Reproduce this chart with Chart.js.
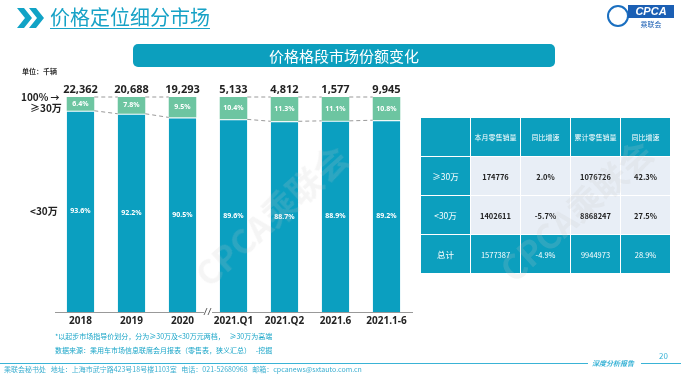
<!DOCTYPE html>
<html>
<head>
<meta charset="utf-8">
<script src="https://cdn.jsdelivr.net/npm/chart.js@4"></script>
<style>
  html, body { margin: 0; padding: 0; background: #fff; }
  body { width: 693px; height: 385px; position: relative; overflow: hidden;
         font-family: "Noto Sans CJK SC", "Noto Sans", sans-serif; }
  #chart { position: absolute; left: 0; top: 0; }
  .abs { position: absolute; white-space: nowrap; }
  .title { left: 50px; top: 4px; font-size: 20px; color: #17a2c6; text-decoration: underline;
           text-underline-offset: 3px; text-decoration-thickness: 1px; line-height: 26px; }
  .banner { left: 133px; top: 44px; width: 422px; height: 23px; background: #0c9fbe;
            border-radius: 5px; color: #fff; font-size: 15px; line-height: 23px; text-align: center; }
  .unit { left: 22px; top: 66px; font-size: 7px; font-weight: bold; color: #333; }
  .side { font-size: 10px; font-weight: bold; color: #222; }
  table.t { position: absolute; left: 420px; top: 117px; border-collapse: separate; border-spacing: 1px;
            font-size: 7px; text-align: center; }
  table.t td { width: 49px; padding: 0; }
  table.t tr.h td { height: 38px; background: #0c9fbe; color: #fff; }
  table.t tr.b td { height: 38px; background: #e8eef6; color: #222; font-weight: bold; font-size: 7.5px; }
  table.t tr.b td.lab { background: #0c9fbe; color: #fff; font-weight: normal; font-size: 8.5px; }
  table.t tr.f td { height: 38px; background: #0c9fbe; color: #fff; font-size: 7.5px; }
  table.t tr.f td.lab { font-size: 8.5px; }
  .note { left: 55px; font-size: 7px; color: #1aa5c8; }
  .foot { left: 4px; top: 364px; font-size: 7px; color: #3aaed0; }
  .wm { font-size: 34px; font-weight: bold; color: rgba(200,200,200,0.18); transform: rotate(-42deg); }
</style>
</head>
<body>
<canvas id="chart" width="693" height="385"></canvas>

<svg class="abs" style="left:17px;top:8px" width="30" height="20" viewBox="0 0 30 20">
  <polygon points="0,0 7,0 15,10 7,20 0,20 8,10" fill="#11a3c6"/>
  <polygon points="12,0 19,0 27,10 19,20 12,20 20,10" fill="#11a3c6"/>
</svg>
<div class="abs title">价格定位细分市场</div>

<div class="abs" style="left:607px;top:5px;width:22px;height:22px;border-radius:50%;border:2px solid #1a6fc0;box-sizing:border-box"></div>
<div class="abs" style="left:628px;top:5px;width:46px;height:13px;background:#1b5fb4;color:#fff;font:italic bold 11px 'Liberation Sans',sans-serif;line-height:13px;text-align:center">CPCA</div>
<div class="abs" style="left:628px;top:19px;width:46px;font-size:7px;color:#1b5fb4;text-align:center">乘联会</div>

<div class="abs banner">价格格段市场份额变化</div>
<div class="abs unit">单位：千辆</div>

<div class="abs side" style="left:21px;top:89px">100% <span style="font-size:9px">→</span></div>
<div class="abs side" style="left:30px;top:100px">≥30万</div>
<div class="abs side" style="left:30px;top:203px">&lt;30万</div>

<table class="t">
  <tr class="h"><td></td><td>本月零售销量</td><td>同比增速</td><td>累计零售销量</td><td>同比增速</td></tr>
  <tr class="b"><td class="lab">≥30万</td><td>174776</td><td>2.0%</td><td>1076726</td><td>42.3%</td></tr>
  <tr class="b"><td class="lab">&lt;30万</td><td>1402611</td><td>-5.7%</td><td>8868247</td><td>27.5%</td></tr>
  <tr class="f"><td class="lab">总计</td><td>1577387</td><td>-4.9%</td><td>9944973</td><td>28.9%</td></tr>
</table>

<div class="abs wm" style="left:175px;top:190px">CPCA乘联会</div>
<div class="abs wm" style="left:480px;top:185px">CPCA乘联会</div>

<div class="abs note" style="top:331px">*以起步市场指导价划分，分为≥30万及&lt;30万元两档，&nbsp;&nbsp;&nbsp;≥30万为高端</div>
<div class="abs note" style="top:345px">数据来源：乘用车市场信息联席会月报表（零售表，狭义汇总）&nbsp;&nbsp;&nbsp;-挖掘</div>

<div class="abs" style="left:0;top:363px;width:588px;height:1px;background:#3ab3d6"></div>
<div class="abs foot">乘联会秘书处&nbsp;&nbsp;&nbsp;地址：上海市武宁路423号18号楼1103室&nbsp;&nbsp;&nbsp;电话：021-52680968&nbsp;&nbsp;&nbsp;邮箱：cpcanews@sxtauto.com.cn</div>
<div class="abs" style="left:592px;top:358px;font-size:7px;font-style:italic;font-weight:bold;color:#3ab3d6">深度分析报告</div>
<div class="abs" style="left:641px;top:363px;width:40px;height:1px;background:#3ab3d6"></div>
<div class="abs" style="left:659px;top:350px;font-size:8px;color:#3ab3d6">20</div>

<script>
// categories and values
const categories = ['2018', '2019', '2020', '2021.Q1', '2021.Q2', '2021.6', '2021.1-6'];
const below30 = [93.6, 92.2, 90.5, 89.6, 88.7, 88.9, 89.2];   // <30万 share %
const above30 = [6.4, 7.8, 9.5, 10.4, 11.3, 11.1, 10.8];      // ≥30万 share %
const totals = ['22,362', '20,688', '19,293', '5,133', '4,812', '1,577', '9,945'];
const breakAfter = 2; // axis break between 2020 and 2021.Q1

const BLUE = '#0b9fc0';
const GREEN = '#6dc5a1';

// labels, dashed connectors and the axis break
const overlay = {
  id: 'overlay',
  afterDatasetsDraw(chart) {
    const ctx = chart.ctx;
    const y = chart.scales.y;
    const m0 = chart.getDatasetMeta(0).data;
    const m1 = chart.getDatasetMeta(1).data;

    ctx.save();
    // dashed connectors
    ctx.strokeStyle = '#999';
    ctx.lineWidth = 1;
    ctx.setLineDash([4, 3]);
    for (let i = 0; i < categories.length - 1; i++) {
      if (i === breakAfter) continue;
      const a = m1[i], b = m1[i + 1];
      const ax = a.x + a.width / 2, bx = b.x - b.width / 2;
      ctx.beginPath();
      ctx.moveTo(ax, y.getPixelForValue(100));
      ctx.lineTo(bx, y.getPixelForValue(100));
      ctx.stroke();
      ctx.beginPath();
      ctx.moveTo(ax, y.getPixelForValue(below30[i]));
      ctx.lineTo(bx, y.getPixelForValue(below30[i + 1]));
      ctx.stroke();
    }
    ctx.setLineDash([]);

    // segment labels
    ctx.fillStyle = '#fff';
    ctx.textAlign = 'center';
    ctx.textBaseline = 'middle';
    ctx.font = 'bold 7px "Noto Sans", sans-serif';
    categories.forEach((c, i) => {
      ctx.fillText(above30[i].toFixed(1) + '%', m1[i].x, y.getPixelForValue(below30[i] + above30[i] / 2));
      ctx.fillText(below30[i].toFixed(1) + '%', m0[i].x, y.getPixelForValue(below30[i] / 2));
    });

    // totals
    ctx.fillStyle = '#222';
    ctx.textBaseline = 'bottom';
    ctx.font = 'bold 11px "Open Sans", sans-serif';
    categories.forEach((c, i) => {
      ctx.fillText(totals[i], m1[i].x, y.getPixelForValue(100) - 2);
    });

    // axis break mark
    const bx = (m0[breakAfter].x + m0[breakAfter + 1].x) / 2;
    const by = y.getPixelForValue(0);
    ctx.fillStyle = '#fff';
    ctx.fillRect(bx - 4, by - 3, 8, 6);
    ctx.strokeStyle = '#666';
    ctx.beginPath();
    ctx.moveTo(bx - 4, by + 3); ctx.lineTo(bx - 1, by - 4);
    ctx.moveTo(bx, by + 3); ctx.lineTo(bx + 3, by - 4);
    ctx.stroke();
    ctx.restore();
  }
};

new Chart(document.getElementById('chart'), {
  type: 'bar',
  data: {
    labels: categories,
    datasets: [
      { label: '<30万', data: below30, backgroundColor: BLUE, borderColor: '#fff', borderWidth: { top: 1 } },
      { label: '≥30万', data: above30, backgroundColor: GREEN }
    ]
  },
  options: {
    responsive: false,
    animation: false,
    events: [],
    layout: { padding: { left: 55, right: 281, top: 97, bottom: 55 } },
    plugins: { legend: { display: false }, tooltip: { enabled: false } },
    datasets: { bar: { categoryPercentage: 1, barPercentage: 0.54 } },
    scales: {
      x: {
        stacked: true,
        grid: { display: false, drawTicks: false },
        border: { color: '#999', width: 1 },
        ticks: { color: '#222', font: { size: 10, weight: 'bold', family: '"Open Sans", sans-serif' }, padding: 3 }
      },
      y: { stacked: true, display: false, min: 0, max: 100 }
    }
  },
  plugins: [overlay]
});
</script>
</body>
</html>
